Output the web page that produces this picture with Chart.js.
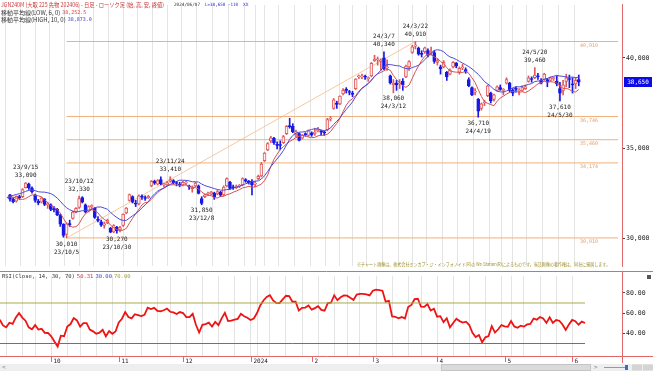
<!DOCTYPE html>
<html>
<head>
<meta charset="utf-8">
<script src="https://cdn.jsdelivr.net/npm/chart.js@4.4.1/dist/chart.umd.min.js"></script>
<style>
html, body { margin: 0; padding: 0; background: #fff; overflow: hidden; }
#wrap { position: relative; width: 653px; height: 371px; }
canvas { position: absolute; left: 0; }
#main { top: 0; }
#rsi { top: 271px; }
</style>
</head>
<body>
<div id="wrap">
  <canvas id="main" width="653" height="271"></canvas>
  <canvas id="rsi" width="653" height="100"></canvas>
</div>
<script>
// daily candles, first 28 rows are warm-up days (before the visible window)
var dates = [
  '23/7/31','23/8/1','23/8/2','23/8/3','23/8/4','23/8/7','23/8/8','23/8/9','23/8/10','23/8/14','23/8/15','23/8/16','23/8/17','23/8/18',
  '23/8/21','23/8/22','23/8/23','23/8/24','23/8/25','23/8/28','23/8/29','23/8/30','23/8/31','23/9/1','23/9/4','23/9/5','23/9/6','23/9/7',
  '23/9/8','23/9/11','23/9/12','23/9/13','23/9/14','23/9/15','23/9/19','23/9/20','23/9/21','23/9/22','23/9/25','23/9/26','23/9/27','23/9/28','23/9/29',
  '23/10/2','23/10/3','23/10/4','23/10/5','23/10/6','23/10/10','23/10/11','23/10/12','23/10/13','23/10/16','23/10/17','23/10/18','23/10/19','23/10/20','23/10/23','23/10/24','23/10/25','23/10/26','23/10/27','23/10/30','23/10/31',
  '23/11/1','23/11/2','23/11/6','23/11/7','23/11/8','23/11/9','23/11/10','23/11/13','23/11/14','23/11/15','23/11/16','23/11/17','23/11/20','23/11/21','23/11/22','23/11/24','23/11/27','23/11/28','23/11/29','23/11/30',
  '23/12/1','23/12/4','23/12/5','23/12/6','23/12/7','23/12/8','23/12/11','23/12/12','23/12/13','23/12/14','23/12/15','23/12/18','23/12/19','23/12/20','23/12/21','23/12/22','23/12/25','23/12/26','23/12/27','23/12/28','23/12/29',
  '24/1/4','24/1/5','24/1/9','24/1/10','24/1/11','24/1/12','24/1/15','24/1/16','24/1/17','24/1/18','24/1/19','24/1/22','24/1/23','24/1/24','24/1/25','24/1/26','24/1/29','24/1/30','24/1/31',
  '24/2/1','24/2/2','24/2/5','24/2/6','24/2/7','24/2/8','24/2/9','24/2/13','24/2/14','24/2/15','24/2/16','24/2/19','24/2/20','24/2/21','24/2/22','24/2/26','24/2/27','24/2/28','24/2/29',
  '24/3/1','24/3/4','24/3/5','24/3/6','24/3/7','24/3/8','24/3/11','24/3/12','24/3/13','24/3/14','24/3/15','24/3/18','24/3/19','24/3/21','24/3/22','24/3/25','24/3/26','24/3/27','24/3/28','24/3/29',
  '24/4/1','24/4/2','24/4/3','24/4/4','24/4/5','24/4/8','24/4/9','24/4/10','24/4/11','24/4/12','24/4/15','24/4/16','24/4/17','24/4/18','24/4/19','24/4/22','24/4/23','24/4/24','24/4/25','24/4/26','24/4/30',
  '24/5/1','24/5/2','24/5/7','24/5/8','24/5/9','24/5/10','24/5/13','24/5/14','24/5/15','24/5/16','24/5/17','24/5/20','24/5/21','24/5/22','24/5/23','24/5/24','24/5/27','24/5/28','24/5/29','24/5/30','24/5/31',
  '24/6/3','24/6/4','24/6/5','24/6/6','24/6/7'
];
var opens = [
  32650,32800,32900,32200,31750,31800,31850,31900,31800,31900,31650,31550,31300,31100,
  31100,31200,31450,31600,31400,31500,31750,31850,31950,32150,32350,32500,32550,32700,
  32400,32150,32050,32300,32300,32800,33000,32780,32400,32050,32000,32150,31850,31850,31600,
  31600,31300,30780,30200,30800,31100,31450,31700,32250,31850,31500,31750,31650,31050,30900,30700,30850,30550,30350,30600,30450,
  30700,31400,32100,32300,31950,31900,32300,32250,32250,32900,33150,33000,33250,32950,32950,33150,33200,33050,33000,32950,
  33050,32900,32750,32900,32900,32200,32300,32450,32450,32500,32450,32550,32400,32900,33100,32800,32800,32880,32950,33250,33150,
  33150,33000,33300,33450,34300,34900,35400,35550,35200,35150,35300,35800,36250,36200,35750,35800,35550,35750,35700,
  35850,35800,35950,35900,35900,36000,36600,37200,37500,37450,38000,38250,38100,38050,38300,38950,38950,38950,38850,
  39000,39850,39900,39800,40000,39450,39000,38500,38600,38550,38700,38950,39500,40300,40650,40550,40250,40350,40400,40300,
  40300,39750,39500,39500,39200,39100,39500,39700,39200,39450,39350,38800,38350,38100,37700,37200,37500,37900,38050,37700,38200,
  38350,38200,38600,38600,38200,38300,38150,38200,38300,38700,38850,38900,39000,38750,38800,38800,38750,38850,38700,38300,38200,
  38700,38850,38550,38550,38800
];
var highs = [
  32800,33100,32950,32250,31900,31900,32000,31950,32100,31950,31850,31600,31400,31150,
  31250,31450,31600,31900,31450,31750,31850,31950,32200,32300,32550,32650,32800,32750,
  32430,32250,32350,32380,32750,33090,33050,32850,32450,32150,32250,32200,32000,31900,31750,
  31650,31330,30800,30850,31000,31500,31700,32330,32300,31900,31800,31850,31700,31200,31000,30900,31050,30600,30750,30650,30650,
  31350,31700,32450,32350,32100,32400,32400,32350,32380,33200,33220,33250,33400,33050,33150,33410,33250,33150,33100,33150,
  33150,32950,32900,33100,32950,32300,32450,32550,32600,32550,32650,32600,32900,33350,33150,32950,32950,32980,33350,33300,33200,
  33250,33150,33500,34200,34750,35300,35650,35600,35350,35400,35700,36250,36650,36350,36000,35850,35750,35850,36000,
  35900,36100,36150,36000,35950,36650,36750,37750,37600,37900,38300,38350,38200,38150,38850,39050,39100,39050,38950,
  39750,40150,40050,39950,40340,39900,39050,38800,38750,38800,38850,39600,39850,40700,40910,40600,40400,40600,40500,40600,
  40400,39950,39600,39850,39250,39400,39800,39750,39500,39650,39450,38900,38400,38300,37750,37500,37650,38500,38100,38000,38450,
  38500,38300,38900,38650,38300,38400,38300,38450,38500,39000,38950,39460,39150,38850,39150,38850,38950,38950,39000,38650,38750,
  39100,39050,38900,38900,39050
];
var lows = [
  32550,32750,32200,31650,31600,31650,31750,31650,31750,31550,31600,31250,31100,30900,
  30950,31150,31350,31550,31100,31450,31650,31750,31900,32050,32300,32400,32500,32450,
  32050,31950,32000,32150,32250,32780,32700,32500,32000,31850,31950,31800,31650,31520,31450,
  31250,30650,30050,30010,30650,31050,31400,31650,31950,31400,31450,31600,31100,30900,30650,30550,30800,30300,30300,30270,30350,
  30650,31350,32050,31950,31750,31850,32150,32100,32200,32850,32980,32950,32950,32850,32900,33100,33000,32900,32850,32900,
  32950,32700,32550,32850,32450,31850,32250,32350,32400,32150,32400,32300,32350,32850,32700,32700,32750,32800,32900,33100,33000,
  32400,32850,33250,33400,34250,34850,35300,35200,34950,34900,35250,35750,36100,35850,35600,35400,35500,35650,35650,
  35650,35700,35900,35700,35700,35950,36500,37150,37200,37400,37950,38050,37950,37850,38250,38850,38850,38800,38700,
  38950,39800,39600,39300,39350,39300,38550,38060,38200,38300,38200,38900,39300,40250,40500,40150,40050,40250,40050,40150,
  39700,39600,39100,39450,38750,39050,39450,39450,39100,39350,39150,38400,37900,37950,36710,37100,37350,37850,37500,37600,38150,
  38200,37950,38550,38100,37900,38100,37950,38150,38250,38650,38650,38850,38800,38550,38750,38400,38700,38750,38450,37610,37950,
  38400,38350,38050,38300,38450
];
var closes = [
  32720,33030,32260,31710,31740,31800,31930,31750,32020,31610,31790,31320,31180,31000,
  31115,31400,31560,31840,31170,31720,31780,31880,32170,32260,32490,32590,32790,32540,
  32160,32020,32320,32250,32700,33050,32780,32580,32100,31950,32220,31870,31920,31590,31580,
  31300,30780,30150,30800,30750,31450,31650,32200,32000,31450,31750,31760,31150,30980,30720,30800,31000,30330,30700,30420,30580,
  31320,31670,32420,32000,31880,32350,32280,32200,32320,33150,33050,33200,33010,32980,33080,33250,33070,33030,32950,33100,
  33050,32850,32850,33060,32480,31930,32410,32460,32550,32300,32590,32380,32840,33300,32760,32790,32870,32920,33300,33160,33080,
  32950,33050,33430,34110,34720,35250,35570,35290,35150,35140,35630,36210,36190,35900,35910,35420,35700,35740,35950,
  35730,35880,36070,35880,35840,36580,36620,37680,37420,37880,38200,38190,38080,37980,38820,38950,38960,38930,38890,
  39700,39920,39900,39880,39400,39500,38620,38600,38500,38600,38510,39540,39800,40620,40690,40210,40200,40560,40150,40350,
  39800,39850,39400,39750,38950,39330,39750,39550,39420,39500,39220,38450,37950,38100,37050,37450,37550,38450,37620,37950,38400,
  38250,38200,38800,38200,38050,38250,38150,38350,38400,38900,38800,39050,38950,38600,39100,38650,38900,38850,38550,38050,38500,
  38900,38800,38500,38760,38650
];
var WARM = 28;
var priceTicks = [30000, 35000, 40000];
var rsiTicks = [40, 60, 80];
var fibLevels = [40910, 36746, 35460, 34174, 30010];
var trendFrom = '23/10/5', trendTo = '24/3/22';
var marks = [
  ['23/9/15', 'H'], ['23/10/5', 'L'], ['23/10/12', 'H'], ['23/10/30', 'L'],
  ['23/11/24', 'H'], ['23/12/8', 'L'], ['24/3/7', 'H'], ['24/3/12', 'L'],
  ['24/3/22', 'H'], ['24/4/19', 'L'], ['24/5/20', 'H'], ['24/5/30', 'L']
];
var lastPrice = '38,650';

var XMIN = -0.93, XMAX = 192.5;
var MONO = '"DejaVu Sans Mono", monospace';
var JP = '"Noto Sans CJK JP", sans-serif';
var RED = '#e06868';

function px(i) { return i - WARM; }
function parseD(s) { var p = s.split('/'); return new Date(2000 + +p[0], +p[1] - 1, +p[2]); }
function fmt(v) { return v.toLocaleString('en-US'); }

// week starts (grid) and month starts (labels)
var weekX = [], monthX = [];
for (var i = 1; i < dates.length; i++) {
  var a = parseD(dates[i - 1]), b = parseD(dates[i]);
  if (b.getDay() < a.getDay() || (b - a) >= 7 * 864e5) weekX.push(px(i));
  if (b.getMonth() !== a.getMonth() && px(i) > 0) {
    monthX.push({ x: px(i), t: b.getMonth() === 0 ? String(b.getFullYear()) : String(b.getMonth() + 1) });
  }
}

// candles
var wick = [], body = [], upC = [];
for (var i = WARM; i < dates.length; i++) {
  wick.push({ x: px(i), y: [lows[i], highs[i]] });
  body.push({ x: px(i), y: [opens[i], closes[i]] });
  upC.push(closes[i] >= opens[i]);
}
var edge = upC.map(function (u) { return u ? '#e05a5a' : '#1818e8'; });
var fill = upC.map(function (u) { return u ? '#ffecec' : '#1818e8'; });

// moving averages of lows (6) and highs (10)
var maLow = [], maHigh = [];
for (var i = 9; i < dates.length; i++) {
  var sh = 0, sl = 0;
  for (var k = 0; k < 10; k++) sh += highs[i - k];
  for (var k = 0; k < 6; k++) sl += lows[i - k];
  maHigh.push({ x: px(i), y: sh / 10 });
  maLow.push({ x: px(i), y: sl / 6 });
}

// RSI 14 (Wilder)
var rsi = [], ag = 0, al = 0;
for (var i = 1; i < closes.length; i++) {
  var d = closes[i] - closes[i - 1], g = Math.max(d, 0), l = Math.max(-d, 0);
  if (i <= 14) { ag += g / 14; al += l / 14; }
  else { ag = (ag * 13 + g) / 14; al = (al * 13 + l) / 14; }
  if (i >= 14) rsi.push({ x: px(i), y: 100 - 100 / (1 + ag / al) });
}

var lastX = px(dates.length - 1);
var iFrom = dates.indexOf(trendFrom), iTo = dates.indexOf(trendTo);
var fibSets = fibLevels.map(function (v) {
  return { type: 'line', data: [{ x: px(iFrom), y: v }, { x: XMAX + 1, y: v }], borderColor: '#efb07c', borderWidth: 1, pointRadius: 0, order: 10 };
});

function put(ctx, s, x, y, color, font, align, maxW) {
  ctx.font = font; ctx.fillStyle = color; ctx.textAlign = align || 'left'; ctx.textBaseline = 'middle';
  if (maxW) ctx.fillText(s, x, y, maxW); else ctx.fillText(s, x, y);
  return x + Math.min(ctx.measureText(s).width, maxW || 1e9);
}

var mainDeco = {
  id: 'mainDeco',
  afterDraw: function (chart) {
    var ctx = chart.ctx, xs = chart.scales.x, ys = chart.scales.y;
    ctx.save();
    // fib labels
    fibLevels.forEach(function (v) {
      put(ctx, fmt(v), 598, ys.getPixelForValue(v) + 4, '#e8a068', '5px ' + MONO, 'right');
    });
    // high / low notes
    marks.forEach(function (m) {
      var i = dates.indexOf(m[0]), x = xs.getPixelForValue(px(i));
      var f = '6px ' + MONO, c = '#222';
      if (m[1] === 'H') {
        var y = ys.getPixelForValue(highs[i]);
        put(ctx, m[0], x, y - 15, c, f, 'center');
        put(ctx, fmt(highs[i]), x, y - 7, c, f, 'center');
      } else {
        var y = ys.getPixelForValue(lows[i]);
        put(ctx, fmt(lows[i]), x, y + 6, c, f, 'center');
        put(ctx, m[0], x, y + 14, c, f, 'center');
      }
    });
    // header
    put(ctx, 'JGN240M (大取 225 先物 202406) - 日足 - ローソク足 (始, 高, 安, 終値)', 1, 5, '#c83a3a', '6px ' + JP, 'left', 163);
    put(ctx, '2024/06/07', 174, 5, '#333', '4.5px ' + MONO, 'left', 26);
    put(ctx, 'L=38,650 -110', 205, 5, '#2a2ad0', '4.5px ' + MONO, 'left', 33);
    put(ctx, 'XX', 243, 5, '#2a2ad0', '4.5px ' + MONO);
    var x2 = put(ctx, '移動平均線(LOW, 6, 0)', 1, 13, '#333', '6px ' + JP);
    put(ctx, '38,252.5', x2 + 2, 13, '#d04040', '5px ' + MONO);
    var x3 = put(ctx, '移動平均線(HIGH, 10, 0)', 1, 20, '#333', '6px ' + JP);
    put(ctx, '38,873.0', x3 + 2, 20, '#3a3ad0', '5px ' + MONO);
    // disclaimer
    put(ctx, '※チャート画像は、株式会社ミンカブ・ジ・インフォノイド(R)の We-Station(R)によるものです。当該画像の著作権は、同社に帰属します。',
        357, 264, '#a09232', '5px ' + JP, 'left', 253);
    // last price box
    var yp = ys.getPixelForValue(closes[closes.length - 1]);
    ctx.fillStyle = '#0c0ce6';
    ctx.fillRect(624, Math.round(yp) - 5, 28, 10);
    put(ctx, lastPrice, 638, yp, '#fff', '6px ' + MONO, 'center');
    ctx.restore();
  }
};

new Chart(document.getElementById('main'), {
  type: 'bar',
  data: {
    datasets: [
      { type: 'line', data: [{ x: px(iFrom), y: lows[iFrom] }, { x: px(iTo), y: highs[iTo] }], borderColor: '#f7c8a0', borderWidth: 1, pointRadius: 0, order: 11 }
    ].concat(fibSets).concat([
      { data: wick, backgroundColor: edge, barThickness: 1, grouped: false, order: 6 },
      { data: body, backgroundColor: fill, borderColor: edge, borderWidth: 1, borderSkipped: false, barThickness: 3, minBarLength: 1, grouped: false, order: 5 },
      { type: 'line', data: maLow, borderColor: '#d85050', borderWidth: 1, pointRadius: 0, order: 2 },
      { type: 'line', data: maHigh, borderColor: '#4a4ad8', borderWidth: 1, pointRadius: 0, order: 1 }
    ])
  },
  options: {
    responsive: false,
    devicePixelRatio: 1,
    animation: false,
    events: [],
    layout: { padding: 0 },
    plugins: { legend: { display: false }, tooltip: { enabled: false } },
    scales: {
      x: {
        type: 'linear', min: XMIN, max: XMAX,
        afterBuildTicks: function (s) { s.ticks = weekX.map(function (v) { return { value: v }; }); },
        afterFit: function (s) { s.height = 0; },
        ticks: { display: false },
        grid: { color: '#e4e4e4', drawTicks: false },
        border: { display: false }
      },
      y: {
        position: 'right', min: 28449, max: 42941,
        afterBuildTicks: function (s) { s.ticks = priceTicks.map(function (v) { return { value: v }; }); },
        afterFit: function (s) { s.width = 31; },
        grid: { drawOnChartArea: false, drawTicks: true, tickLength: 3, color: '#444' },
        border: { display: true, color: RED, width: 1 },
        ticks: { color: '#222', padding: 1, font: { family: MONO, size: 6.5 }, callback: function (v) { return fmt(v); } }
      }
    }
  },
  plugins: [mainDeco]
});

var rsiDeco = {
  id: 'rsiDeco',
  afterDraw: function (chart) {
    var ctx = chart.ctx, xs = chart.scales.x, ca = chart.chartArea;
    ctx.save();
    ctx.strokeStyle = RED; ctx.lineWidth = 1;
    ctx.beginPath();
    ctx.moveTo(0, 0.5); ctx.lineTo(653, 0.5);
    ctx.moveTo(0, ca.bottom + 0.5); ctx.lineTo(653, ca.bottom + 0.5);
    ctx.moveTo(ca.right + 0.5, 0); ctx.lineTo(ca.right + 0.5, 92);
    ctx.stroke();
    // month labels
    monthX.forEach(function (m) {
      var x = Math.round(xs.getPixelForValue(m.x)) + 0.5;
      ctx.beginPath(); ctx.moveTo(x, ca.bottom); ctx.lineTo(x, ca.bottom + 6); ctx.stroke();
      put(ctx, m.t, x + 2, ca.bottom + 5, '#222', '6px ' + MONO, 'left');
    });
    // header
    var x = put(ctx, 'RSI(Close, 14, 30, 70)', 2, 6, '#333', '5.5px ' + MONO);
    x = put(ctx, '50.31', x + 2, 6, '#d03030', '5.5px ' + MONO);
    x = put(ctx, '30.00', x + 2, 6, '#4040c0', '5.5px ' + MONO);
    put(ctx, '70.00', x + 2, 6, '#a0a040', '5.5px ' + MONO);
    ctx.fillStyle = '#555'; ctx.fillRect(647, 4, 4, 4);
    // scroll bar
    ctx.fillStyle = '#eeeeee'; ctx.fillRect(0, 93, 653, 7);
    put(ctx, '<', 2, 96.5, '#777', '6px ' + MONO);
    ctx.fillStyle = '#dadada'; ctx.fillRect(441, 93.5, 150, 6);
    ctx.strokeStyle = '#c4c4c4'; ctx.strokeRect(441.5, 93.5, 149, 6);
    put(ctx, '>', 594, 96.5, '#777', '6px ' + MONO);
    ctx.strokeStyle = '#999'; ctx.beginPath(); ctx.moveTo(604, 96.5); ctx.lineTo(627, 96.5); ctx.stroke();
    ctx.fillStyle = '#3a6ad8'; ctx.fillRect(625, 94, 3, 5);
    ctx.fillStyle = '#d4d4d4'; ctx.fillRect(632, 93.5, 10, 6); ctx.fillRect(643, 93.5, 10, 6);
    ctx.restore();
  }
};

new Chart(document.getElementById('rsi'), {
  type: 'line',
  data: {
    datasets: [
      { data: [{ x: -1, y: 70 }, { x: lastX, y: 70 }], borderColor: '#a8a84c', borderWidth: 1, pointRadius: 0 },
      { data: [{ x: -1, y: 30 }, { x: lastX, y: 30 }], borderColor: '#6464d4', borderWidth: 1, pointRadius: 0 },
      { data: rsi, borderColor: '#ee1414', borderWidth: 1.8, pointRadius: 0 }
    ]
  },
  options: {
    responsive: false,
    devicePixelRatio: 1,
    animation: false,
    events: [],
    layout: { padding: 0 },
    plugins: { legend: { display: false }, tooltip: { enabled: false } },
    scales: {
      x: {
        type: 'linear', min: XMIN, max: XMAX,
        afterBuildTicks: function (s) { s.ticks = weekX.map(function (v) { return { value: v }; }); },
        afterFit: function (s) { s.height = 15; },
        ticks: { display: false },
        grid: { color: '#e4e4e4', drawTicks: false },
        border: { display: false }
      },
      y: {
        position: 'right', min: 17.67, max: 96.74,
        afterBuildTicks: function (s) { s.ticks = rsiTicks.map(function (v) { return { value: v }; }); },
        afterFit: function (s) { s.width = 31; },
        grid: { drawOnChartArea: false, drawTicks: true, tickLength: 3, color: '#444' },
        border: { display: true, color: RED, width: 1 },
        ticks: { color: '#222', padding: 1, font: { family: MONO, size: 6.5 }, callback: function (v) { return v.toFixed(2); } }
      }
    }
  },
  plugins: [rsiDeco]
});
</script>
</body>
</html>
